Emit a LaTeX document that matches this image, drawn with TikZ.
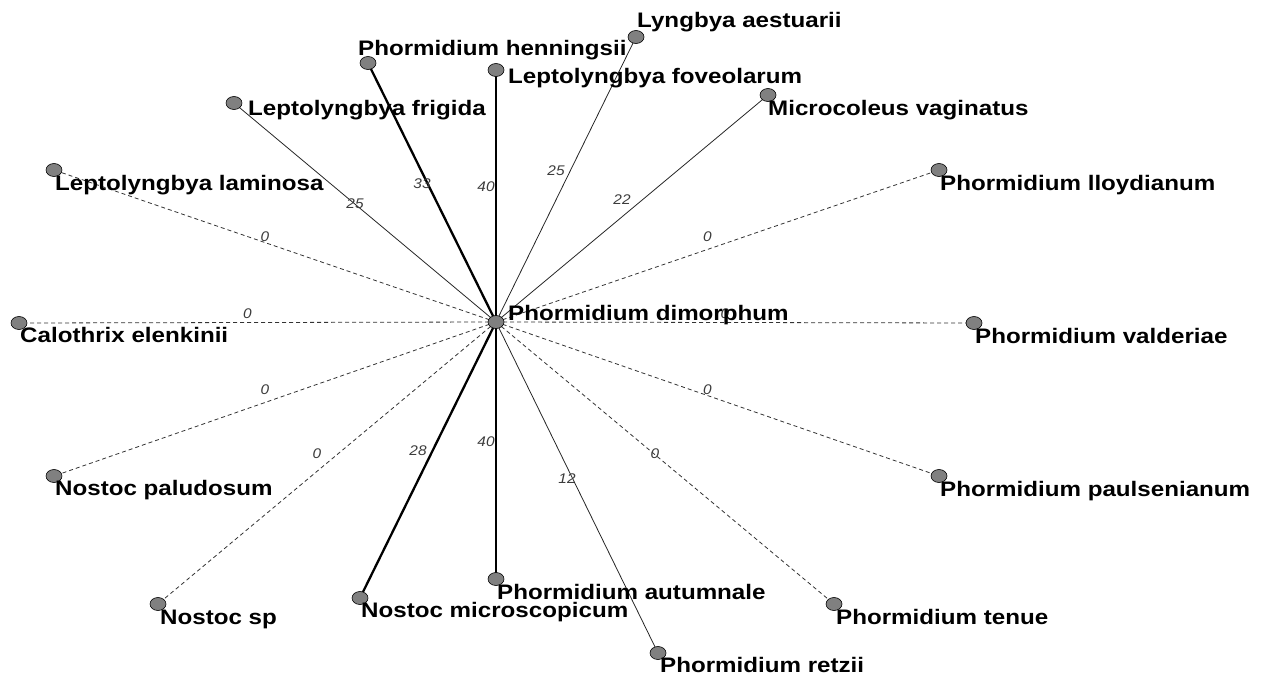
\documentclass[tikz,border=0pt]{standalone}
\usepackage{fontspec}
\usetikzlibrary{shapes.geometric,backgrounds}
\newfontfamily\taxfont[FakeStretch=1.15]{Liberation Sans}
\newfontfamily\wtfont[FakeStretch=1.1]{Liberation Sans}
\definecolor{nodegray}{RGB}{128,128,128}
\definecolor{weightgray}{RGB}{60,60,60}

\begin{document}
\begin{tikzpicture}[x=1pt,y=-1pt,line cap=butt,line join=round,
    taxon/.style={ellipse,draw=black,line width=0.6pt,fill=nodegray,
        minimum width=16pt,minimum height=13pt,inner sep=0pt},
    taxlab/.style={anchor=base west,inner sep=0pt,
        font=\taxfont\bfseries\fontsize{21}{24}\selectfont},
    wlab/.style={inner sep=0pt,text=weightgray,xshift=-10pt,yshift=9pt,
        font=\wtfont\itshape\fontsize{14}{16}\selectfont},
    strong/.style={line width=2.3pt,black},
    weak/.style={line width=0.8pt,black!85},
    nolink/.style={line width=0.8pt,black!80,dash pattern=on 4pt off 3pt}]
        \useasboundingbox (0,0) rectangle (1262,675);

        % Taxa (Knoten) und Beschriftungen
        \foreach \id/\px/\py/\dx/\dy/\name in {
            dim/496/322/12/-2/Phormidium dimorphum,
            hen/368/63/-10/-8/Phormidium henningsii,
            lyn/636/37/1/-10/Lyngbya aestuarii,
            fov/496/70/12/13/Leptolyngbya foveolarum,
            fri/234/103/14/12/Leptolyngbya frigida,
            mic/768/95/0/20/Microcoleus vaginatus,
            lam/54/170/1/20/Leptolyngbya laminosa,
            llo/939/170/1/20/Phormidium lloydianum,
            cal/19/323/1/19/Calothrix elenkinii,
            val/974/323/1/20/Phormidium valderiae,
            pal/54/476/1/19/Nostoc paludosum,
            pau/939/476/1/20/Phormidium paulsenianum,
            nsp/158/604/2/20/Nostoc sp,
            nmi/360/598/1/19/Nostoc microscopicum,
            aut/496/579/1/20/Phormidium autumnale,
            ret/658/653/2/19/Phormidium retzii,
            ten/834/604/2/20/Phormidium tenue} {
            \node[taxon] (c\id) at (\px,\py) {};
            \node[taxlab] (l\id) at ([shift={(\dx,\dy)}]c\id) {\name};
        }

        % Kanten vom Zentrum aus, mit Gewichten
        \begin{scope}[on background layer]
        \foreach \id/\w/\kind in {
            hen/33/strong, fov/40/strong, lyn/25/weak, mic/22/weak,
            fri/25/weak, lam/0/nolink, llo/0/nolink, cal/0/nolink,
            val/0/nolink, pal/0/nolink, pau/0/nolink, nsp/0/nolink,
            nmi/28/strong, aut/40/strong, ret/12/weak, ten/0/nolink} {
            \draw[\kind] (cdim.center) -- node[wlab] {\w} (c\id.center);
        }
        \end{scope}
    \end{tikzpicture}
\end{document}
